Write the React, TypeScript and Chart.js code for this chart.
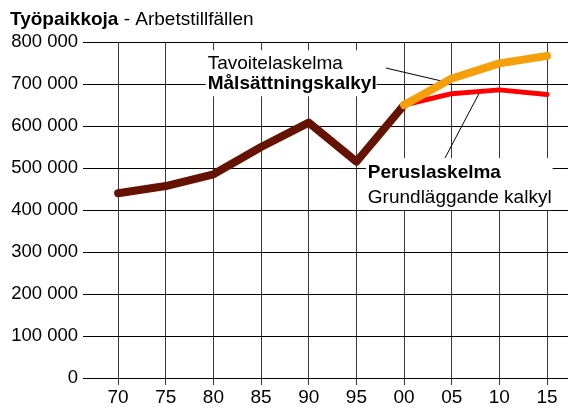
import { useEffect, useRef } from "react";
import { Chart, registerables } from "chart.js";

Chart.register(...registerables);

// ---- data ----
const tickYears = [1970, 1975, 1980, 1985, 1990, 1995, 2000, 2005, 2010, 2015];
const tickLabels = ["70", "75", "80", "85", "90", "95", "00", "05", "10", "15"];
const historyYears = [1970, 1975, 1980, 1985, 1990, 1995, 2000];
const historyValues = [440000, 457000, 485000, 550000, 608000, 515000, 650000];
const forecastYears = [2000, 2005, 2010, 2015];
const targetValues = [650000, 713000, 749000, 767000];
const basicValues = [650000, 677000, 686000, 675000];

const titleBold = "Työpaikkoja";
const titleRest = " - Arbetstillfällen";
const targetLines = ["Tavoitelaskelma", "Målsättningskalkyl"];
const basicLines = ["Peruslaskelma", "Grundläggande kalkyl"];

const FONT = '"Liberation Sans", Arial, sans-serif';
const FS = 19;

function fmt(v: number): string {
  return String(Math.round(v)).replace(/\B(?=(\d{3})+(?!\d))/g, " ");
}

const annotationPlugin = {
  id: "annotations",
  beforeDatasetsDraw(chart: any) {
    const ctx = chart.ctx as CanvasRenderingContext2D;
    const xs = chart.scales.x;
    const ys = chart.scales.y;
    ctx.save();

    const block = (
      lines: string[],
      bold: boolean[],
      xVal: number,
      yVal: number,
      gap: number,
      pad: { l: number; r: number; t: number; b: number }
    ) => {
      const left = xs.getPixelForValue(xVal);
      const base1 = ys.getPixelForValue(yVal);
      let maxW = 0;
      lines.forEach((t, i) => {
        ctx.font = `${bold[i] ? "bold " : ""}${FS}px ${FONT}`;
        maxW = Math.max(maxW, ctx.measureText(t).width);
      });
      const top = base1 - 14;
      const bottom = base1 + gap * (lines.length - 1) + 4;
      ctx.fillStyle = "#ffffff";
      ctx.fillRect(left - pad.l, top - pad.t, maxW + pad.l + pad.r, bottom - top + pad.t + pad.b);
      ctx.fillStyle = "#000000";
      ctx.textBaseline = "alphabetic";
      ctx.textAlign = "left";
      lines.forEach((t, i) => {
        ctx.font = `${bold[i] ? "bold " : ""}${FS}px ${FONT}`;
        ctx.fillText(t, left, base1 + gap * i);
      });
    };

    block(targetLines, [false, true], 1979.4, 735000, 20, { l: 2, r: 0, t: 5, b: 3 });
    block(basicLines, [true, false], 1996.2, 476000, 25, { l: 2, r: 1, t: 6, b: 3 });

    // leader lines
    ctx.strokeStyle = "#000000";
    ctx.lineWidth = 1;
    ctx.beginPath();
    ctx.moveTo(xs.getPixelForValue(1998.1), ys.getPixelForValue(738000));
    ctx.lineTo(xs.getPixelForValue(2003.95), ys.getPixelForValue(707000));
    ctx.moveTo(xs.getPixelForValue(2004.3), ys.getPixelForValue(524000));
    ctx.lineTo(xs.getPixelForValue(2007.95), ys.getPixelForValue(681000));
    ctx.stroke();
    ctx.restore();
  },
  afterDraw(chart: any) {
    const ctx = chart.ctx as CanvasRenderingContext2D;
    ctx.save();
    ctx.fillStyle = "#000000";
    ctx.textBaseline = "alphabetic";
    ctx.textAlign = "left";
    ctx.font = `bold ${FS}px ${FONT}`;
    ctx.fillText(titleBold, 10, 25);
    const w = ctx.measureText(titleBold).width;
    ctx.font = `${FS}px ${FONT}`;
    ctx.fillText(titleRest, 10 + w, 25);
    ctx.restore();
  },
};

export default function App() {
  const ref = useRef<HTMLCanvasElement | null>(null);

  useEffect(() => {
    if (!ref.current) return;
    const lineCommon = {
      pointRadius: 0,
      pointHoverRadius: 0,
      tension: 0,
      borderCapStyle: "round" as const,
      borderJoinStyle: "round" as const,
      fill: false,
    };
    const chart = new Chart(ref.current, {
      type: "line",
      data: {
        datasets: [
          {
            ...lineCommon,
            label: "Tavoitelaskelma",
            data: forecastYears.map((x, i) => ({ x, y: targetValues[i] })),
            borderColor: "#f5a00a",
            borderWidth: 8,
          },
          {
            ...lineCommon,
            label: "Peruslaskelma",
            data: forecastYears.map((x, i) => ({ x, y: basicValues[i] })),
            borderColor: "#ff0000",
            borderWidth: 5,
          },
          {
            ...lineCommon,
            label: "Historia",
            data: historyYears.map((x, i) => ({ x, y: historyValues[i] })),
            borderColor: "#651200",
            borderWidth: 8,
          },
        ],
      },
      plugins: [annotationPlugin],
      options: {
        animation: false,
        responsive: false,
        devicePixelRatio: 1,
        layout: { padding: { top: 42, left: 0, right: 0, bottom: 0 } },
        plugins: {
          legend: { display: false },
          tooltip: { enabled: false },
          title: { display: false },
        },
        scales: {
          x: {
            type: "linear",
            min: 1967.05,
            max: 2017.2,
            afterBuildTicks: (s: any) => {
              s.ticks = tickYears.map((v) => ({ value: v }));
            },
            afterFit: (s: any) => {
              s.height = 34;
            },
            ticks: {
              font: { family: FONT, size: FS },
              color: "#000000",
              padding: 1,
              autoSkip: false,
              maxRotation: 0,
              callback: (v: any) => {
                const i = tickYears.indexOf(Number(v));
                return i >= 0 ? tickLabels[i] : "";
              },
            },
            grid: { color: "#3a3a3a", lineWidth: 1, tickLength: 7, drawTicks: true },
            border: { display: false },
          },
          y: {
            type: "linear",
            min: 0,
            max: 800000,
            afterFit: (s: any) => {
              s.width = 90;
            },
            ticks: {
              stepSize: 100000,
              font: { family: FONT, size: 18.5 },
              color: "#000000",
              padding: 5,
              callback: (v: any) => fmt(Number(v)),
            },
            grid: { color: "#000000", lineWidth: 1, tickLength: 7, drawTicks: true },
            border: { display: false },
          },
        },
      },
    });
    return () => chart.destroy();
  }, []);

  return (
    <div style={{ position: "fixed", left: 0, top: 0, width: 568, height: 412, background: "#ffffff" }}>
      <canvas ref={ref} width={568} height={412} style={{ display: "block", width: 568, height: 412 }} />
    </div>
  );
}
